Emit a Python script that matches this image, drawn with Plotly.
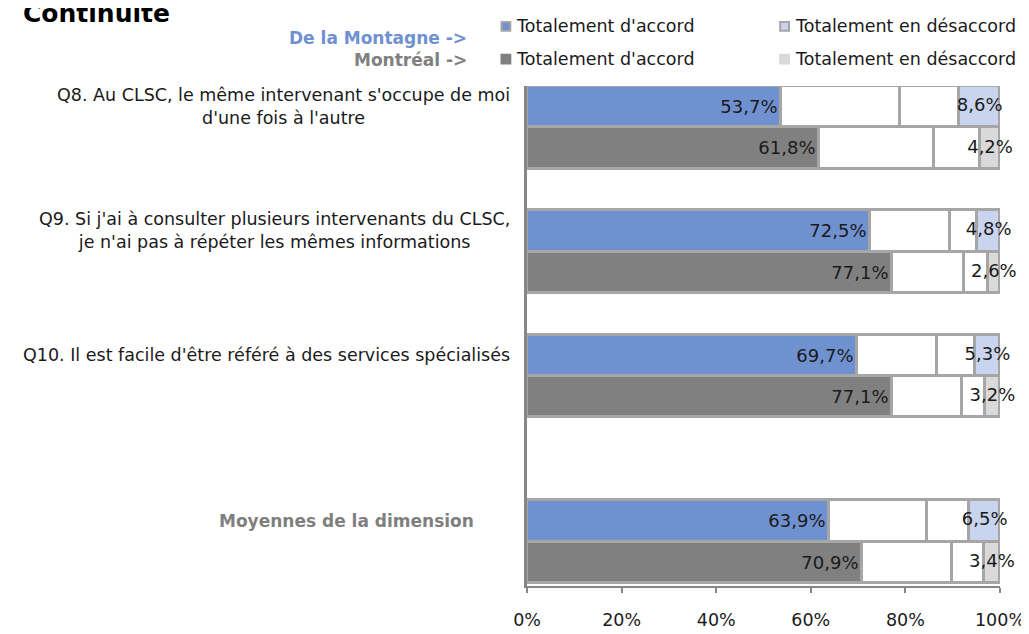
import plotly.graph_objects as go

# ---------------- data ----------------
questions = [
    "Q8. Au CLSC, le même intervenant s'occupe de moi<br>d'une fois à l'autre",
    "Q9. Si j'ai à consulter plusieurs intervenants du CLSC,<br>je n'ai pas à répéter les mêmes informations",
    "Q10. Il est facile d'être référé à des services spécialisés",
    "Moyennes de la dimension",
]
question_keys = ["Q8", "Q9", "Q10", "Moy"]

montagne_accord = [53.7, 72.5, 69.7, 63.9]
montagne_plutot_accord = [25.1, 16.9, 16.9, 20.7]
montagne_plutot_desaccord = [12.6, 5.8, 8.1, 8.9]
montagne_desaccord = [8.6, 4.8, 5.3, 6.5]

montreal_accord = [61.8, 77.1, 77.1, 70.9]
montreal_plutot_accord = [24.2, 15.3, 14.9, 19.0]
montreal_plutot_desaccord = [9.8, 5.0, 4.8, 6.7]
montreal_desaccord = [4.2, 2.6, 3.2, 3.4]

x_ticks = [0, 20, 40, 60, 80, 100]
x_ticklabels = ["0%", "20%", "40%", "60%", "80%", "100%"]

legend_accord = "Totalement d'accord"
legend_desaccord = "Totalement en désaccord"
group_montagne = "De la Montagne ->"
group_montreal = "Montréal ->"
title_text = "Continuité"

# rows (top to bottom), blank rows act as spacers
rows_m = [k + " M" for k in question_keys]
rows_r = [k + " R" for k in question_keys]
row_order = [rows_m[0], rows_r[0], " ",
             rows_m[1], rows_r[1], "  ",
             rows_m[2], rows_r[2], "   ", "    ",
             rows_m[3], rows_r[3]]

# ---------------- style ----------------
BLUE = "#7091D0"
LBLUE = "#C9D4EE"
GRAY = "#808080"
LGRAY = "#D9D9D9"
BORDER = "#A6A6A6"
AXIS = "#868686"
FONT = "DejaVu Sans"
TXT = "#1a1a1a"

fig = go.Figure()

def add_bars(rows, acc, pacc, pdes, des, c_acc, c_des):
    line = dict(color=BORDER, width=3)
    fig.add_trace(go.Bar(
        y=rows, x=acc, orientation="h", marker=dict(color=c_acc, line=line),
        texttemplate="%{x:.1f}%", textposition="inside", insidetextanchor="end",
        textfont=dict(family=FONT, size=18, color=TXT), textangle=0,
        showlegend=False, hoverinfo="skip", cliponaxis=False))
    fig.add_trace(go.Bar(y=rows, x=pacc, orientation="h",
                         marker=dict(color="white", line=line),
                         showlegend=False, hoverinfo="skip"))
    fig.add_trace(go.Bar(y=rows, x=pdes, orientation="h",
                         marker=dict(color="white", line=line),
                         showlegend=False, hoverinfo="skip"))
    fig.add_trace(go.Bar(y=rows, x=des, orientation="h",
                         marker=dict(color=c_des, line=line),
                         showlegend=False, hoverinfo="skip"))
    # labels of the "désaccord" segment, centred on the segment
    fig.add_trace(go.Scatter(
        y=rows, x=[a + b + c + d / 2 for a, b, c, d in zip(acc, pacc, pdes, des)],
        customdata=des, mode="text", texttemplate="%{customdata:.1f}%",
        textposition="middle center",
        textfont=dict(family=FONT, size=18, color=TXT),
        showlegend=False, hoverinfo="skip", cliponaxis=False))

add_bars(rows_m, montagne_accord, montagne_plutot_accord,
         montagne_plutot_desaccord, montagne_desaccord, BLUE, LBLUE)
add_bars(rows_r, montreal_accord, montreal_plutot_accord,
         montreal_plutot_desaccord, montreal_desaccord, GRAY, LGRAY)

annotations = []
# question labels
label_shift = [-15, -15, -15, -51]
for i, q in enumerate(questions):
    bold = (i == len(questions) - 1)
    annotations.append(dict(
        xref="paper", x=0, xanchor="right", xshift=label_shift[i],
        yref="y", y=rows_m[i], yanchor="middle",
        text=("<b>%s</b>" % q) if bold else q, align="center", showarrow=False,
        font=dict(family=FONT, size=17 if bold else 17.5,
                  color="#7F7F7F" if bold else TXT)))

# title
annotations.append(dict(xref="paper", yref="paper", x=-519 / 482, y=1 + (78 - 20) / 520,
                        xanchor="left", yanchor="bottom", xshift=3,
                        text="<b>%s</b>" % title_text, showarrow=False,
                        font=dict(family=FONT, size=25, color="black")))
# group names
annotations.append(dict(xref="paper", yref="paper", x=0, xshift=-58,
                        y=1 + (78 - 28) / 520, xanchor="right", yanchor="middle",
                        text="<b>%s</b>" % group_montagne, showarrow=False,
                        font=dict(family=FONT, size=17, color=BLUE)))
annotations.append(dict(xref="paper", yref="paper", x=0, xshift=-58,
                        y=1 + (78 - 51) / 520, xanchor="right", yanchor="middle",
                        text="<b>%s</b>" % group_montreal, showarrow=False,
                        font=dict(family=FONT, size=17, color=GRAY)))

# manual legend
shapes = []
leg_items = [
    (493, 16, BLUE, BORDER, legend_accord),
    (777, 16, LBLUE, BORDER, legend_desaccord),
    (493, 50, GRAY, GRAY, legend_accord),
    (777, 50, LGRAY, LGRAY, legend_desaccord),
]
W, H, L, T = 1029, 634, 519, 78
PW, PH = W - L - 28, H - T - 36
for px, py, fill, edge, txt in leg_items:
    x0 = (px - L) / PW
    x1 = (px + 9 - L) / PW
    y0 = 1 + (T - (py + 4.5)) / PH
    y1 = 1 + (T - (py - 4.5)) / PH
    shapes.append(dict(type="rect", xref="paper", yref="paper",
                       x0=x0, x1=x1, y0=y0, y1=y1, fillcolor=fill,
                       line=dict(color=edge, width=2)))
    annotations.append(dict(xref="paper", yref="paper", x=(px + 13 - L) / PW,
                            y=1 + (T - py) / PH, xanchor="left", yanchor="middle",
                            text=txt, showarrow=False,
                            font=dict(family=FONT, size=17.5, color=TXT)))

fig.update_layout(
    width=W, height=H,
    margin=dict(l=L, r=28, t=T, b=36, pad=0),
    paper_bgcolor="white", plot_bgcolor="white",
    barmode="stack", bargap=0, bargroupgap=0,
    separators=", ",
    showlegend=False,
    font=dict(family=FONT, color=TXT),
    xaxis=dict(range=[0, 100], tickvals=x_ticks, ticktext=x_ticklabels,
               showgrid=False, zeroline=False, showline=True, linecolor=AXIS,
               linewidth=2, ticks="outside", ticklen=5, tickcolor=AXIS, tickwidth=2,
               tickfont=dict(family=FONT, size=17.5, color=TXT), ticklabelstandoff=12,
               fixedrange=True),
    yaxis=dict(type="category", categoryorder="array", categoryarray=row_order,
               range=[11.57, -0.5], showticklabels=False, ticks="",
               showgrid=False, zeroline=False, showline=True, linecolor=AXIS,
               linewidth=3, fixedrange=True),
    annotations=annotations,
    shapes=shapes,
)

fig.write_html("out.html")
